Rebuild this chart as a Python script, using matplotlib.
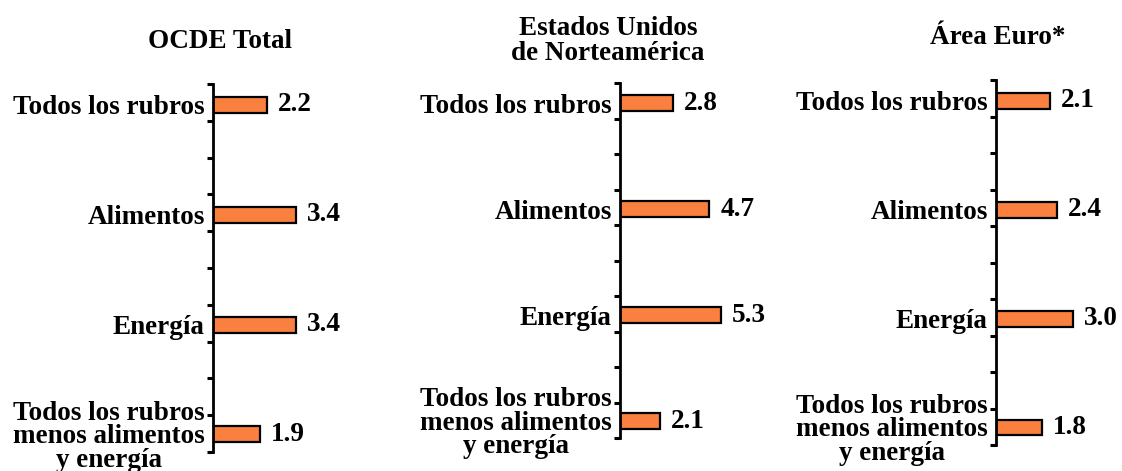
import numpy as np
import matplotlib
matplotlib.use("Agg")
import matplotlib.pyplot as plt

# Category labels (top to bottom)
categories = [
    "Todos los rubros",
    "Alimentos",
    "Energía",
    "Todos los rubros\nmenos alimentos\ny energía",
]

# Panel titles
titles = ["OCDE Total", "Estados Unidos\nde Norteamérica", "Área Euro*"]

# Values per region
ocde_total = [2.2, 3.4, 3.4, 1.9]
estados_unidos = [2.8, 4.7, 5.3, 2.1]
area_euro = [2.1, 2.4, 3.0, 1.8]
series = [ocde_total, estados_unidos, area_euro]

W, H = 1122, 471
DPI = 100
BAR_COLOR = "#FA8040"
FONT = dict(family="Liberation Serif", weight="bold", size=19.5)

fig = plt.figure(figsize=(W / DPI, H / DPI), dpi=DPI)
fig.patch.set_facecolor("white")

# Panel geometry in pixels: axis x, axis top, axis bottom, px per unit, title centre
panels = [
    dict(x=213, top=84, bottom=452, scale=24.5, tx=220, ty=42),
    dict(x=620, top=83, bottom=438, scale=19.0, tx=608, ty=41),
    dict(x=996, top=80, bottom=445, scale=25.5, tx=998, ty=38),
]

Y_TOP, Y_BOTTOM = -0.19, 3.16
AX_W = 150

for vals, title, p in zip(series, titles, panels):
    ax = fig.add_axes([
        p["x"] / W,
        (H - p["bottom"]) / H,
        AX_W / W,
        (p["bottom"] - p["top"]) / H,
    ])
    ax.set_facecolor("none")
    pos = np.arange(len(categories))
    ax.barh(pos, vals, height=0.145, color=BAR_COLOR, edgecolor="black",
            linewidth=1.6, zorder=3)
    ax.set_xlim(0, AX_W / p["scale"])
    ax.set_ylim(Y_BOTTOM, Y_TOP)

    for sp in ("top", "right", "bottom"):
        ax.spines[sp].set_visible(False)
    ax.spines["left"].set_linewidth(2.0)
    ax.spines["left"].set_zorder(4)

    ax.set_xticks([])
    ax.set_yticks(pos)
    ax.set_yticklabels(categories, multialignment="center", linespacing=0.92,
                       **FONT)
    ax.tick_params(axis="y", which="major", length=0, pad=6)
    ax.set_yticks(np.linspace(Y_TOP, Y_BOTTOM, 11), minor=True)
    ax.tick_params(axis="y", which="minor", length=4, width=2.2,
                   direction="out")

    for i, v in enumerate(vals):
        ax.annotate(f"{v:.1f}", xy=(v, i), xytext=(8, 0),
                    textcoords="offset points", ha="left", va="center",
                    annotation_clip=False, **FONT)

    fig.text(p["tx"] / W, 1 - p["ty"] / H, title, ha="center", va="center",
             multialignment="center", linespacing=1.05, **FONT)

fig.savefig("out.png", dpi=DPI, facecolor="white")
